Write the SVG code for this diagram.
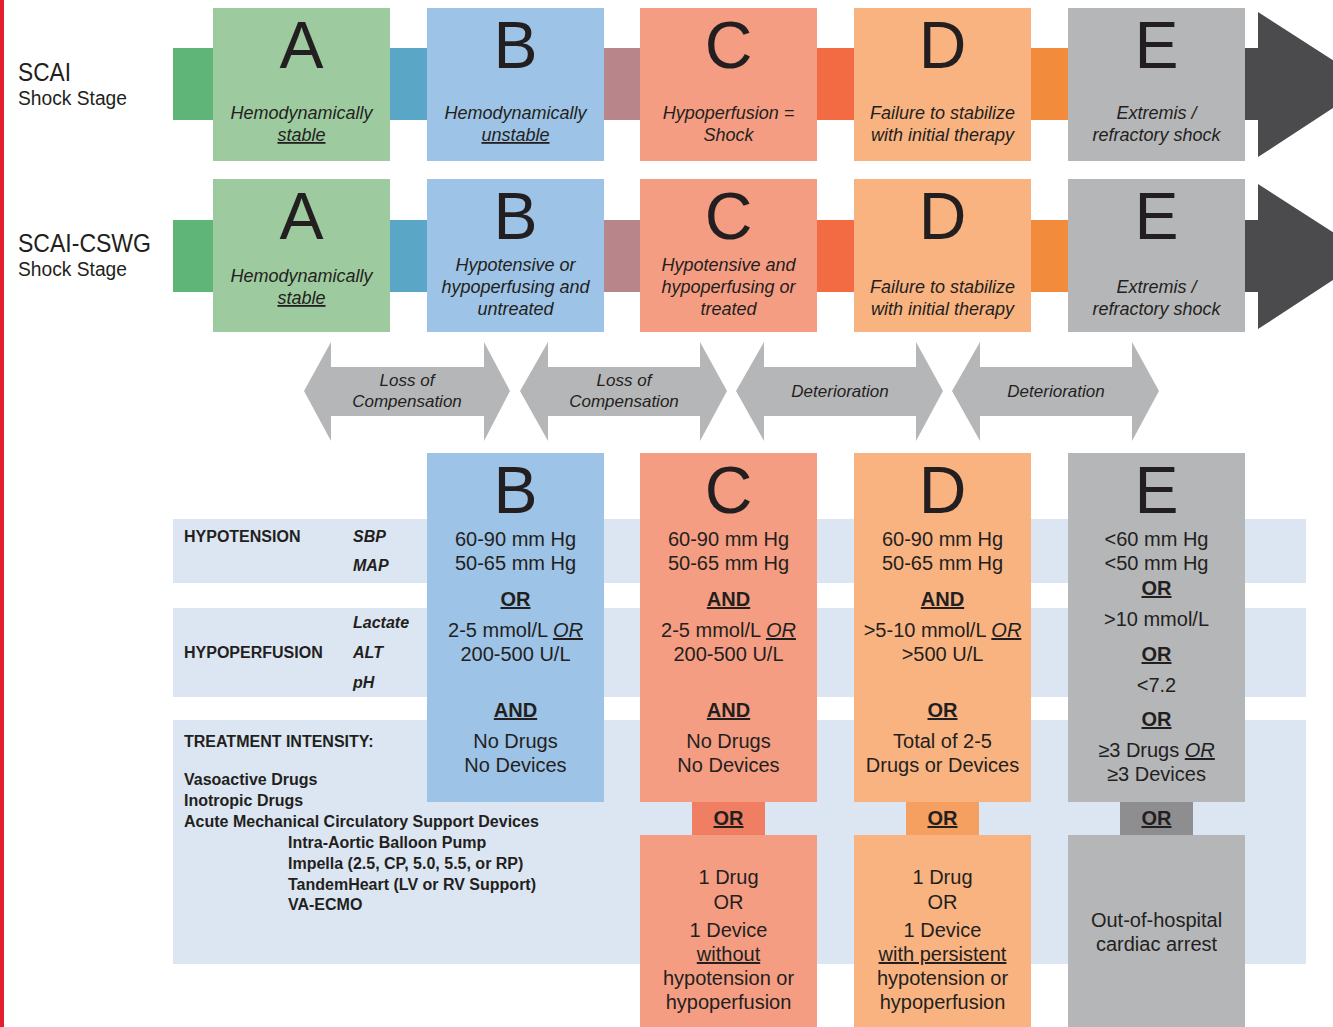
<svg xmlns="http://www.w3.org/2000/svg" width="1333" height="1027" viewBox="0 0 1333 1027">
<style>
text{font-family:"Liberation Sans",Arial,sans-serif;fill:#231f20}
.big{font-size:66px;text-anchor:middle}
.hd{font-size:18px;font-style:italic;text-anchor:middle}
.lbl1{font-size:26px}
.lbl2{font-size:20px}
.cell{font-size:20px;text-anchor:middle}
.kw{font-size:20px;font-weight:bold;text-anchor:middle;text-decoration:underline}
.u{text-decoration:underline}
.ui{text-decoration:underline;font-style:italic}
.rh{font-size:16px;font-weight:bold}
.ri{font-size:16px;font-weight:bold;font-style:italic}
.arr{font-size:17px;font-style:italic;text-anchor:middle}
.ga{fill:#5fb577}.gb{fill:#9dcb9f}
.ba{fill:#5aa6c6}.bb{fill:#9dc3e6}
.ca{fill:#b8858a}.cb{fill:#f59d82}
.da{fill:#f26b43}.db{fill:#f9b380}
.ea{fill:#f38b3c}.eb{fill:#b5b6b8}
.band{fill:#dce6f3}
.dbl{fill:#b5b6b8}
</style>
<rect x="0" y="0" width="1333" height="1027" fill="#ffffff"/>
<rect x="0" y="0" width="4" height="1027" fill="#e31e2d"/>

<g id="table-bands">
<rect class="band" x="173" y="519" width="1133" height="64"/>
<rect class="band" x="173" y="608" width="1133" height="89"/>
<rect class="band" x="173" y="720" width="1133" height="244"/>
</g>

<g id="connectors">
<rect class="ga" x="173" y="48" width="40" height="72"/>
<rect class="ba" x="390" y="48" width="37" height="72"/>
<rect class="ca" x="604" y="48" width="36" height="72"/>
<rect class="da" x="817" y="48" width="37" height="72"/>
<rect class="ea" x="1031" y="48" width="37" height="72"/>
<path d="M1245 48 H1258 V12 L1370 84 L1258 157 V120 H1245 Z" fill="#4b4b4d"/>
<rect class="ga" x="173" y="220" width="40" height="72"/>
<rect class="ba" x="390" y="220" width="37" height="72"/>
<rect class="ca" x="604" y="220" width="36" height="72"/>
<rect class="da" x="817" y="220" width="37" height="72"/>
<rect class="ea" x="1031" y="220" width="37" height="72"/>
<path d="M1245 220 H1258 V184 L1370 256 L1258 329 V292 H1245 Z" fill="#4b4b4d"/>
<g id="dbl-arrows">
<path class="dbl" d="M304 391 L331 342 V367 H484 V342 L510 391 L484 441 V416 H331 V441 Z"/>
<path class="dbl" d="M520 391 L548 342 V367 H700 V342 L727 391 L700 441 V416 H548 V441 Z"/>
<path class="dbl" d="M736 391 L764 342 V367 H916 V342 L943 391 L916 441 V416 H764 V441 Z"/>
<path class="dbl" d="M952 391 L980 342 V367 H1132 V342 L1159 391 L1132 441 V416 H980 V441 Z"/>
<text class="arr" x="407" y="386">Loss of</text>
<text class="arr" x="407" y="407">Compensation</text>
<text class="arr" x="624" y="386">Loss of</text>
<text class="arr" x="624" y="407">Compensation</text>
<text class="arr" x="840" y="397">Deterioration</text>
<text class="arr" x="1056" y="397">Deterioration</text>
</g>
</g>

<g id="row-labels">
<text class="lbl1" x="18" y="81" textLength="53" lengthAdjust="spacingAndGlyphs">SCAI</text>
<text class="lbl2" x="18" y="105" textLength="109" lengthAdjust="spacingAndGlyphs">Shock Stage</text>
<text class="lbl1" x="18" y="252" textLength="133" lengthAdjust="spacingAndGlyphs">SCAI-CSWG</text>
<text class="lbl2" x="18" y="276" textLength="109" lengthAdjust="spacingAndGlyphs">Shock Stage</text>
</g>

<g id="scai-A">
<rect class="gb" x="213" y="8" width="177" height="153"/>
<text class="big" x="301.5" y="68">A</text>
<text class="hd" x="301.5" y="119">Hemodynamically</text>
<text class="hd u" x="301.5" y="141">stable</text>
</g>
<g id="scai-B">
<rect class="bb" x="427" y="8" width="177" height="153"/>
<text class="big" x="515.5" y="68">B</text>
<text class="hd" x="515.5" y="119">Hemodynamically</text>
<text class="hd u" x="515.5" y="141">unstable</text>
</g>
<g id="scai-C">
<rect class="cb" x="640" y="8" width="177" height="153"/>
<text class="big" x="728.5" y="68">C</text>
<text class="hd" x="728.5" y="119">Hypoperfusion =</text>
<text class="hd" x="728.5" y="141">Shock</text>
</g>
<g id="scai-D">
<rect class="db" x="854" y="8" width="177" height="153"/>
<text class="big" x="942.5" y="68">D</text>
<text class="hd" x="942.5" y="119">Failure to stabilize</text>
<text class="hd" x="942.5" y="141">with initial therapy</text>
</g>
<g id="scai-E">
<rect class="eb" x="1068" y="8" width="177" height="153"/>
<text class="big" x="1156.5" y="68">E</text>
<text class="hd" x="1156.5" y="119">Extremis /</text>
<text class="hd" x="1156.5" y="141">refractory shock</text>
</g>

<g id="cswg-A">
<rect class="gb" x="213" y="179" width="177" height="153"/>
<text class="big" x="301.5" y="239">A</text>
<text class="hd" x="301.5" y="282">Hemodynamically</text>
<text class="hd u" x="301.5" y="304">stable</text>
</g>
<g id="cswg-B">
<rect class="bb" x="427" y="179" width="177" height="153"/>
<text class="big" x="515.5" y="239">B</text>
<text class="hd" x="515.5" y="271">Hypotensive or</text>
<text class="hd" x="515.5" y="293">hypoperfusing and</text>
<text class="hd" x="515.5" y="315">untreated</text>
</g>
<g id="cswg-C">
<rect class="cb" x="640" y="179" width="177" height="153"/>
<text class="big" x="728.5" y="239">C</text>
<text class="hd" x="728.5" y="271">Hypotensive and</text>
<text class="hd" x="728.5" y="293">hypoperfusing or</text>
<text class="hd" x="728.5" y="315">treated</text>
</g>
<g id="cswg-D">
<rect class="db" x="854" y="179" width="177" height="153"/>
<text class="big" x="942.5" y="239">D</text>
<text class="hd" x="942.5" y="293">Failure to stabilize</text>
<text class="hd" x="942.5" y="315">with initial therapy</text>
</g>
<g id="cswg-E">
<rect class="eb" x="1068" y="179" width="177" height="153"/>
<text class="big" x="1156.5" y="239">E</text>
<text class="hd" x="1156.5" y="293">Extremis /</text>
<text class="hd" x="1156.5" y="315">refractory shock</text>
</g>

<g id="criteria-labels">
<text class="rh" x="184" y="542">HYPOTENSION</text>
<text class="ri" x="353" y="542">SBP</text>
<text class="ri" x="353" y="571">MAP</text>
<text class="ri" x="353" y="628">Lactate</text>
<text class="rh" x="184" y="658">HYPOPERFUSION</text>
<text class="ri" x="353" y="658">ALT</text>
<text class="ri" x="353" y="688">pH</text>
<text class="rh" x="184" y="747">TREATMENT INTENSITY:</text>
<text class="rh" x="184" y="785">Vasoactive Drugs</text>
<text class="rh" x="184" y="806">Inotropic Drugs</text>
<text class="rh" x="184" y="827">Acute Mechanical Circulatory Support Devices</text>
<text class="rh" x="288" y="848">Intra-Aortic Balloon Pump</text>
<text class="rh" x="288" y="869">Impella (2.5, CP, 5.0, 5.5, or RP)</text>
<text class="rh" x="288" y="890">TandemHeart (LV or RV Support)</text>
<text class="rh" x="288" y="910">VA-ECMO</text>
</g>

<g id="table-B">
<rect class="bb" x="427" y="453" width="177" height="349"/>
<text class="big" x="515.5" y="513">B</text>
<text class="cell" x="515.5" y="546">60-90 mm Hg</text>
<text class="cell" x="515.5" y="570">50-65 mm Hg</text>
<text class="kw" x="515.5" y="606">OR</text>
<text class="cell" x="515.5" y="637">2-5 mmol/L <tspan class="ui">OR</tspan></text>
<text class="cell" x="515.5" y="661">200-500 U/L</text>
<text class="kw" x="515.5" y="717">AND</text>
<text class="cell" x="515.5" y="748">No Drugs</text>
<text class="cell" x="515.5" y="772">No Devices</text>
</g>
<g id="table-C">
<rect class="cb" x="640" y="453" width="177" height="349"/>
<rect x="692" y="802" width="73" height="33" fill="#f07e62"/>
<rect class="cb" x="640" y="835" width="177" height="192"/>
<text class="big" x="728.5" y="513">C</text>
<text class="cell" x="728.5" y="546">60-90 mm Hg</text>
<text class="cell" x="728.5" y="570">50-65 mm Hg</text>
<text class="kw" x="728.5" y="606">AND</text>
<text class="cell" x="728.5" y="637">2-5 mmol/L <tspan class="ui">OR</tspan></text>
<text class="cell" x="728.5" y="661">200-500 U/L</text>
<text class="kw" x="728.5" y="717">AND</text>
<text class="cell" x="728.5" y="748">No Drugs</text>
<text class="cell" x="728.5" y="772">No Devices</text>
<text class="kw" x="728.5" y="825">OR</text>
<text class="cell" x="728.5" y="884">1 Drug</text>
<text class="cell" x="728.5" y="909">OR</text>
<text class="cell" x="728.5" y="937">1 Device</text>
<text class="cell u" x="728.5" y="961">without</text>
<text class="cell" x="728.5" y="985">hypotension or</text>
<text class="cell" x="728.5" y="1009">hypoperfusion</text>
</g>
<g id="table-D">
<rect class="db" x="854" y="453" width="177" height="349"/>
<rect x="906" y="802" width="73" height="33" fill="#f5a060"/>
<rect class="db" x="854" y="835" width="177" height="192"/>
<text class="big" x="942.5" y="513">D</text>
<text class="cell" x="942.5" y="546">60-90 mm Hg</text>
<text class="cell" x="942.5" y="570">50-65 mm Hg</text>
<text class="kw" x="942.5" y="606">AND</text>
<text class="cell" x="942.5" y="637">&gt;5-10 mmol/L <tspan class="ui">OR</tspan></text>
<text class="cell" x="942.5" y="661">&gt;500 U/L</text>
<text class="kw" x="942.5" y="717">OR</text>
<text class="cell" x="942.5" y="748">Total of 2-5</text>
<text class="cell" x="942.5" y="772">Drugs or Devices</text>
<text class="kw" x="942.5" y="825">OR</text>
<text class="cell" x="942.5" y="884">1 Drug</text>
<text class="cell" x="942.5" y="909">OR</text>
<text class="cell" x="942.5" y="937">1 Device</text>
<text class="cell u" x="942.5" y="961">with persistent</text>
<text class="cell" x="942.5" y="985">hypotension or</text>
<text class="cell" x="942.5" y="1009">hypoperfusion</text>
</g>
<g id="table-E">
<rect class="eb" x="1068" y="453" width="177" height="349"/>
<rect x="1120" y="802" width="73" height="33" fill="#8e8e90"/>
<rect class="eb" x="1068" y="835" width="177" height="192"/>
<text class="big" x="1156.5" y="513">E</text>
<text class="cell" x="1156.5" y="546">&lt;60 mm Hg</text>
<text class="cell" x="1156.5" y="570">&lt;50 mm Hg</text>
<text class="kw" x="1156.5" y="595">OR</text>
<text class="cell" x="1156.5" y="626">&gt;10 mmol/L</text>
<text class="kw" x="1156.5" y="661">OR</text>
<text class="cell" x="1156.5" y="692">&lt;7.2</text>
<text class="kw" x="1156.5" y="726">OR</text>
<text class="cell" x="1156.5" y="757">≥3 Drugs <tspan class="ui">OR</tspan></text>
<text class="cell" x="1156.5" y="781">≥3 Devices</text>
<text class="kw" x="1156.5" y="825">OR</text>
<text class="cell" x="1156.5" y="927">Out-of-hospital</text>
<text class="cell" x="1156.5" y="951">cardiac arrest</text>
</g>
</svg>
